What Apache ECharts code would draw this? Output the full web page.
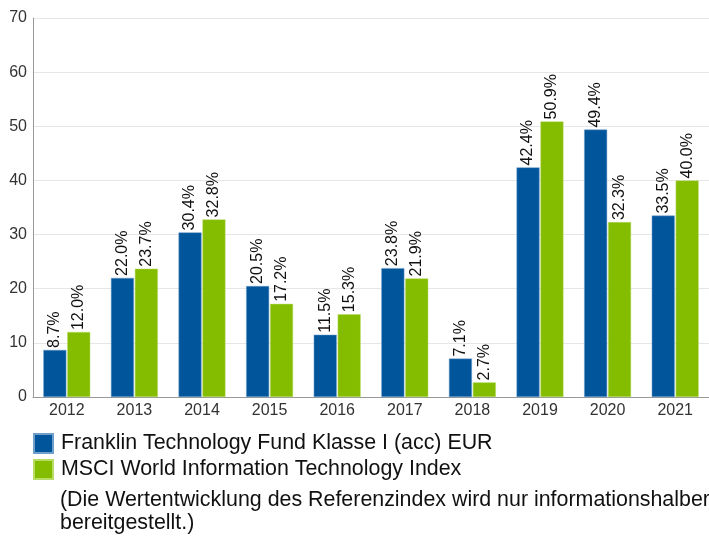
<!DOCTYPE html>
<html>
<head>
<meta charset="utf-8">
<script src="https://cdn.jsdelivr.net/npm/echarts@6/dist/echarts.min.js"></script>
<style>
html, body { margin: 0; padding: 0; background: #fff; }
#chart { width: 709px; height: 538px; }
</style>
</head>
<body>
<div id="chart"></div>
<script>
var years = ['2012', '2013', '2014', '2015', '2016', '2017', '2018', '2019', '2020', '2021'];
var fundName = 'Franklin Technology Fund Klasse I (acc) EUR';
var indexName = 'MSCI World Information Technology Index';
var fundValues = [8.7, 22.0, 30.4, 20.5, 11.5, 23.8, 7.1, 42.4, 49.4, 33.5];
var indexValues = [12.0, 23.7, 32.8, 17.2, 15.3, 21.9, 2.7, 50.9, 32.3, 40.0];
var yTicks = [0, 10, 20, 30, 40, 50, 60, 70];
var note = '(Die Wertentwicklung des Referenzindex wird nur informationshalber\nbereitgestellt.)';

var chart = echarts.init(document.getElementById('chart'));

var barLabel = {
    show: true,
    position: 'top',
    rotate: 90,
    align: 'left',
    verticalAlign: 'middle',
    distance: 2,
    fontFamily: 'Liberation Sans',
    fontSize: 16,
    color: '#111',
    formatter: function (p) { return p.value.toFixed(1) + '%'; }
};

var option = {
    backgroundColor: '#fff',
    animation: false,
    grid: { left: 33, top: 18, width: 681, height: 379 },
    legend: {
        orient: 'vertical',
        left: 33,
        top: 433,
        padding: 0,
        itemWidth: 19,
        itemHeight: 19,
        itemGap: 5,
        icon: 'rect',
        textStyle: { fontFamily: 'Liberation Sans', fontSize: 21.4, color: '#111', padding: [0, 0, 0, 3] },
        data: [fundName, indexName]
    },
    title: {
        text: note,
        left: 55,
        top: 484,
        textStyle: { fontFamily: 'Liberation Sans', fontSize: 21.4, fontWeight: 'normal', color: '#111', lineHeight: 23 }
    },
    xAxis: {
        type: 'category',
        data: years,
        axisLine: { lineStyle: { color: '#999', width: 1 } },
        axisTick: { show: false },
        axisLabel: { fontFamily: 'Liberation Sans', fontSize: 16, color: '#333', margin: 6 }
    },
    yAxis: {
        type: 'value',
        min: yTicks[0],
        max: yTicks[yTicks.length - 1],
        interval: 10,
        axisLine: { show: true, lineStyle: { color: '#999', width: 1 } },
        axisTick: { show: false },
        axisLabel: { fontFamily: 'Liberation Sans', fontSize: 16, color: '#333', margin: 6 },
        splitLine: { lineStyle: { color: '#e6e6e6' } }
    },
    series: [
        {
            name: fundName,
            type: 'bar',
            data: fundValues,
            barWidth: 23,
            barGap: '4%',
            itemStyle: { color: '#00559b', borderColor: '#6f9fcc', borderWidth: 0.5 },
            label: barLabel
        },
        {
            name: indexName,
            type: 'bar',
            data: indexValues,
            barWidth: 23,
            itemStyle: { color: '#84bc00', borderColor: '#b8dd66', borderWidth: 0.5 },
            label: barLabel
        }
    ]
};
chart.setOption(option);
</script>
</body>
</html>
